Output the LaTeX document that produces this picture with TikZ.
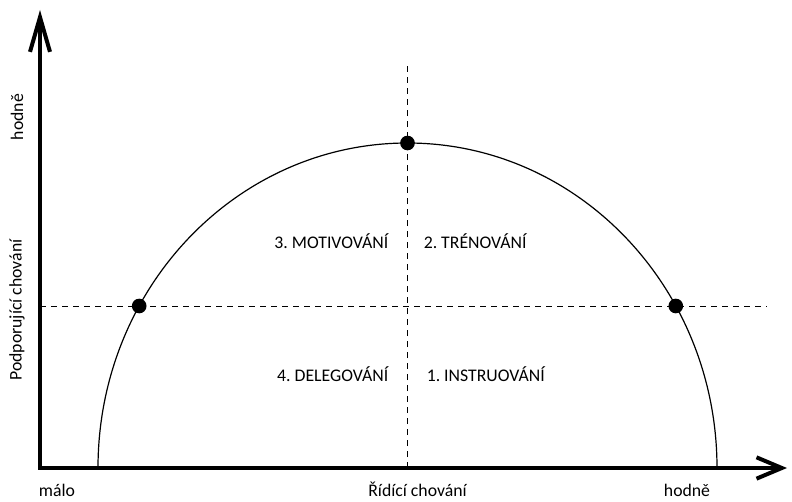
\documentclass[tikz,border=0pt]{standalone}
\usepackage{fontspec}
\setmainfont{Carlito}
\frenchspacing
\usetikzlibrary{arrows.meta,calc,positioning}
\tikzset{%
	axis/.style     = {line width=3pt, line join=miter},
	guide/.style    = {line width=0.75pt, dash pattern=on 4.5pt off 3.75pt}, % dashed cross
	curve/.style    = {line width=0.9pt},
	spot/.style     = {circle, fill=black, inner sep=0pt, minimum size=11pt},
	quad/.style     = {font=\fontsize{13.3}{15}\selectfont, inner sep=0pt},
	lbl/.style      = {font=\fontsize{13.3}{15}\selectfont, inner sep=0pt},
}

\begin{document}
\begin{tikzpicture}[x=0.75pt,y=0.75pt]
	\useasboundingbox (0,0) rectangle (792,501);
	\coordinate (o) at (40,33);
	\coordinate (ytop) at (40,491);
	\coordinate (xend) at (787,33);
	\coordinate (c) at (407.5,33);
	\coordinate (vtop) at (407.5,436);
	\coordinate (hl) at (40,195);
	\coordinate (hr) at (767,195);
	\coordinate (cross) at (407.5,195);
	
	% dashed cross
	\draw[guide] (hl) -- (hr);
	\draw[guide] (c) -- (vtop);
	
	% half ellipse
	\draw[curve] (98,33) arc[start angle=180, end angle=0, x radius=309.5, y radius=325];
	\node [spot] (top) at (407.5,358) {};
	\node [spot] (left) at (139.2,195) {};
	\node [spot] (right) at (675.8,195) {};
	
	% axes
	\draw[axis, {Straight Barb[length=26pt,width=15pt]}-{Straight Barb[length=19pt,width=16pt]}] (ytop) -- (o) -- (xend);
	
	\node [quad, anchor=base east] (mot) at ($(cross)+(-19,58)$) {3. MOTIVOVÁNÍ};
	\node [quad, anchor=base west] (tren) at ($(cross)+(16,58)$) {2. TRÉNOVÁNÍ};
	\node [quad, anchor=base east] (del) at ($(cross)+(-19,-75)$) {4. DELEGOVÁNÍ};
	\node [quad, anchor=base west] (instr) at ($(cross)+(19,-75)$) {1. INSTRUOVÁNÍ};
	
	\node [lbl, anchor=base] (malo) at (57,5) {málo};
	\node [lbl, anchor=base] (ridici) at ($(c)+(10,-28)$) {Řídící chování};
	\node [lbl, anchor=base] (hodnex) at (687,5) {hodně};
	\node [lbl, rotate=90] (hodney) at (17,384) {hodně};
	\node [lbl, rotate=90] (podp) at (17,191) {Podporující chování};
\end{tikzpicture}
\end{document}
